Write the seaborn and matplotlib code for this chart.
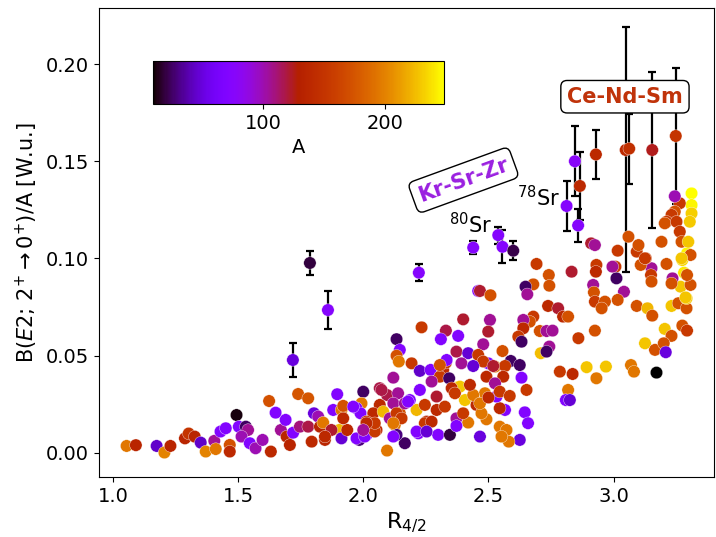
import matplotlib
matplotlib.use("Agg")
import matplotlib.pyplot as plt
import seaborn as sns
import numpy as np
import pandas as pd
from matplotlib.colors import Normalize
from matplotlib.cm import ScalarMappable

# ---- data: (R4/2, B(E2)/A, A) ----
points = [
(1.055,0.0036,195),(1.092,0.004,135),(1.175,0.0036,45),(1.206,0.0002,200),(1.23,0.0036,135),(1.288,0.0075,135),
(1.303,0.010,150),(1.327,0.0084,135),(1.351,0.0053,45),(1.371,0.0007,200),(1.405,0.0062,105),(1.411,0.002,195),
(1.43,0.011,72),(1.451,0.0127,72),(1.467,0.0041,172),(1.467,0.0007,140),(1.494,0.0195,12),(1.503,0.0135,72),
(1.531,0.0135,25),(1.54,0.0118,105),(1.514,0.0084,100),(1.547,0.005,72),(1.57,0.0024,100),(1.598,0.0067,100),
(1.631,0.0007,140),(1.624,0.0267,172),(1.65,0.0207,72),(1.671,0.0118,105),(1.69,0.017,72),(1.694,0.0084,135),
(1.707,0.0041,135),(1.72,0.0104,72),(1.74,0.0303,175),(1.78,0.0281,175),(1.747,0.0135,110),(1.78,0.0135,118),
(1.794,0.0058,140),(1.803,0.0204,50),(1.82,0.0187,100),(1.827,0.0135,135),(1.84,0.0156,195),(1.847,0.0067,135),
(1.896,0.0302,72),(1.88,0.0221,72),(1.913,0.0221,195),(1.92,0.0242,172),(1.904,0.0118,222),(1.873,0.0118,122),
(1.913,0.0075,48),(1.936,0.0118,140),(1.92,0.0178,140),
(2.233,0.0646,155),(2.33,0.0629,118),(2.379,0.0602,72),(2.31,0.0585,72),(2.133,0.0585,25),(2.146,0.053,72),
(2.133,0.05,172),(2.142,0.047,195),(2.193,0.0461,155),(2.372,0.0521,118),(2.12,0.0387,105),(2.226,0.0422,45),
(2.269,0.0427,72),(2.319,0.0427,140),(2.33,0.0464,155),(2.306,0.0392,155),(2.343,0.0384,25),(2.379,0.0338,222),
(2.273,0.0367,105),(2.226,0.0324,72),(2.0,0.0315,25),(1.993,0.0255,195),(1.973,0.023,72),(1.989,0.0204,72),
(2.066,0.0333,118),(2.095,0.0298,118),(2.139,0.0307,105),(2.186,0.0272,72),(2.12,0.0255,105),(2.066,0.0247,140),
(2.04,0.0204,140),(2.08,0.0212,222),(2.146,0.0204,172),(2.106,0.0178,105),(2.013,0.0161,155),(2.053,0.0118,140),
(2.126,0.0144,195),(2.213,0.0221,222),(2.246,0.0247,155),(2.293,0.0221,140),(2.326,0.0238,155),(2.253,0.0161,140),
(2.22,0.0101,72),(2.299,0.0093,72),(2.346,0.0093,20),(2.166,0.005,25),(2.095,0.0012,195),(2.133,0.0093,30),
(2.12,0.0084,72),(2.013,0.0093,72),(1.984,0.0067,30),(1.847,0.0084,140),
(2.692,0.0972,155),(2.832,0.0932,122),(2.741,0.0915,172),(2.743,0.086,172),(2.679,0.0867,172),(2.648,0.0855,25),
(2.655,0.0816,105),(2.459,0.0833,72),(2.466,0.0833,122),(2.508,0.0811,172),(2.931,0.0967,155),(2.929,0.0932,140),
(3.007,0.0958,155),(3.011,0.0898,25),(2.918,0.0864,105),(2.921,0.0826,172),(3.041,0.0829,105),(3.016,0.0787,172),
(2.925,0.0778,155),(2.965,0.0778,172),(2.952,0.0744,172),(3.092,0.0756,172),(3.135,0.0744,222),(3.154,0.0706,172),
(2.738,0.0756,140),(2.778,0.0744,122),(2.798,0.0701,140),(2.818,0.0701,172),(2.679,0.0701,155),(2.665,0.0675,172),
(2.639,0.0684,105),(2.639,0.0641,140),(2.619,0.0598,155),(2.632,0.0572,25),(2.705,0.0627,172),(2.732,0.0627,105),
(2.756,0.0629,105),(2.743,0.0547,105),(2.709,0.0513,225),(2.732,0.0521,25),(2.859,0.059,155),(2.925,0.0629,172),
(2.785,0.0418,155),(2.836,0.0406,140),(2.892,0.0441,228),(2.931,0.0384,195),(2.969,0.0444,228),(3.069,0.0452,195),
(3.081,0.0418,195),(2.818,0.0324,195),(2.809,0.0272,72),(2.825,0.0272,48),(3.125,0.0564,228),(3.165,0.053,172),
(3.204,0.0638,228),(3.231,0.0602,172),(3.2,0.0564,172),(3.208,0.0518,50),(3.274,0.0655,172),(3.293,0.0629,155),
(3.231,0.0756,228),(3.258,0.077,172),(3.291,0.0744,172),(3.267,0.0855,228),(3.307,0.0864,172),(3.235,0.0898,105),
(3.231,0.0872,172),(3.281,0.0927,240),(3.293,0.0915,172),(3.274,0.0992,235),(3.293,0.1027,245),(3.307,0.1018,172),
(3.291,0.0795,230),(3.211,0.0972,172),(3.151,0.095,105),(3.149,0.0915,155),(3.151,0.0881,172),(3.108,0.0967,172),
(3.128,0.1001,155),(3.092,0.1035,155),
(2.399,0.0687,122),(2.506,0.0684,105),(2.499,0.0624,122),(2.556,0.0524,172),(2.589,0.0473,25),(2.625,0.0452,25),
(2.526,0.0444,195),(2.566,0.0447,155),(2.559,0.0392,140),(2.632,0.0387,72),(2.652,0.0324,155),(2.645,0.0209,72),
(2.658,0.0153,72),(2.625,0.0067,50),(2.581,0.0058,195),(2.545,0.0135,195),(2.572,0.0118,195),(2.552,0.0084,195),
(2.566,0.0221,72),(2.545,0.023,140),(2.532,0.029,72),(2.486,0.0307,195),(2.492,0.0173,195),(2.466,0.0084,50),
(2.452,0.0247,140),(2.472,0.0204,195),(2.419,0.0156,195),(2.492,0.0392,140),(2.526,0.0358,105),(2.479,0.0559,105),
(2.499,0.0461,72),(2.406,0.0272,228),(2.386,0.0341,228),(2.353,0.0333,140),(2.439,0.0298,195),(2.466,0.0255,195),
(2.419,0.0513,48),(2.459,0.0504,155),(2.392,0.0461,105),(2.333,0.0478,72),(2.479,0.047,155),(2.439,0.0447,48),
(2.519,0.0447,122),(2.306,0.0452,172),(2.366,0.0307,155),(2.426,0.035,140),(2.545,0.0315,155),(2.585,0.0293,155),
(2.50,0.0285,140),
(3.311,0.1335,248),(3.311,0.1275,245),(3.311,0.1232,232),(3.304,0.1189,230),(3.264,0.1284,155),(3.244,0.1241,172),
(3.231,0.1224,155),(3.211,0.1189,155),(3.204,0.1181,172),(3.251,0.1189,155),(3.264,0.1138,155),(3.271,0.1086,172),
(3.298,0.1086,228),(3.271,0.1001,228),(3.191,0.1086,172),(3.099,0.1069,172),(3.059,0.1112,172),(3.125,0.1001,155),
(3.287,0.08,228),(3.016,0.104,155),(2.995,0.0958,105),(2.91,0.1078,122),(2.925,0.1069,105),(3.171,0.0413,10),
(3.244,0.132,100),
(1.96,0.0238,72),(1.973,0.0075,72),(2.006,0.0084,72),(2.046,0.011,155),(2.073,0.0324,118),(2.133,0.0204,155),
(2.153,0.0178,155),(2.166,0.0255,105),(2.179,0.0264,72),(2.293,0.029,122),(2.246,0.0153,155),(2.273,0.0161,140),
(2.213,0.011,72),(2.253,0.011,48),(2.372,0.0178,105),(2.372,0.0139,72),(2.399,0.0204,155),(2.12,0.0153,195),
(2.046,0.0153,155),(2.013,0.0153,140),(2.0,0.0118,105),
]
r42 = [p[0] for p in points]
be2 = [p[1] for p in points]
mass = [p[2] for p in points]

# points with error bars
err_r42 = [1.719, 1.787, 1.859, 2.222, 2.439, 2.539, 2.556, 2.599, 2.812, 2.845, 2.865, 2.858, 2.929, 3.048, 3.062, 3.154, 3.248]
err_be2 = [0.0478, 0.0977, 0.0735, 0.0927, 0.1056, 0.112, 0.106, 0.104, 0.127, 0.150, 0.1373, 0.117, 0.1535, 0.1558, 0.1565, 0.1558, 0.163]
err_dy = [0.0087, 0.0064, 0.010, 0.0045, 0.0034, 0.0043, 0.0085, 0.0048, 0.0131, 0.018, 0.0175, 0.0084, 0.0126, 0.063, 0.018, 0.040, 0.035]
err_mass = [50, 20, 75, 75, 75, 75, 75, 22, 75, 78, 140, 75, 140, 140, 145, 125, 150]

xticks = [1.0, 1.5, 2.0, 2.5, 3.0]
yticks = [0.00, 0.05, 0.10, 0.15, 0.20]
cbar_ticks = [100, 200]

df = pd.DataFrame({"r42": r42, "be2": be2, "A": mass})
dfe = pd.DataFrame({"r42": err_r42, "be2": err_be2, "dy": err_dy, "A": err_mass})

vmin = min(mass + err_mass)
vmax = max(mass + err_mass)
norm = Normalize(vmin=vmin, vmax=vmax)
cmap = "gnuplot"

fig = plt.figure(figsize=(7.16, 5.37), dpi=100)
ax = fig.add_axes([0.138, 0.112, 0.859, 0.873])

ax.errorbar(dfe["r42"], dfe["be2"], yerr=dfe["dy"], fmt="none", ecolor="k",
            elinewidth=1.6, capsize=3, capthick=1.6, zorder=1)
sns.scatterplot(data=df, x="r42", y="be2", hue="A", palette=cmap, hue_norm=norm,
                s=80, legend=False, ax=ax, zorder=2, edgecolor="white", linewidth=0.25)
sns.scatterplot(data=dfe, x="r42", y="be2", hue="A", palette=cmap, hue_norm=norm,
                s=80, legend=False, ax=ax, zorder=3, edgecolor="white", linewidth=0.25)

ax.set_xlim(0.944, 3.40)
ax.set_ylim(-0.0123, 0.2288)
ax.set_xticks(xticks)
ax.set_yticks(yticks)
ax.tick_params(labelsize=14)
ax.set_xlabel(r"R$_{4/2}$", fontsize=16)
ax.set_ylabel(r"B($E2$; 2$^{+}\rightarrow$0$^{+}$)/A [W.u.]", fontsize=15)

ax.text(2.43, 0.1172, r"$^{80}$Sr", fontsize=15, ha="center", va="center", zorder=4)
ax.text(2.701, 0.1315, r"$^{78}$Sr", fontsize=15, ha="center", va="center", zorder=4)
ax.text(2.40, 0.1403, "Kr-Sr-Zr", fontsize=15, fontweight="bold", color="#9a1fe0",
        rotation=20, ha="center", va="center", zorder=5,
        bbox=dict(boxstyle="round,pad=0.3", fc="white", ec="black"))
ax.text(3.045, 0.1832, "Ce-Nd-Sm", fontsize=15, fontweight="bold", color="#c0330a",
        ha="center", va="center", zorder=5,
        bbox=dict(boxstyle="round,pad=0.3", fc="white", ec="black"))

cax = ax.inset_axes([0.088, 0.795, 0.473, 0.092])
sm = ScalarMappable(norm=norm, cmap=cmap)
cb = fig.colorbar(sm, cax=cax, orientation="horizontal", ticks=cbar_ticks)
cb.ax.tick_params(labelsize=14)
cb.set_label("A", fontsize=14)

fig.savefig("out.png", dpi=100)
